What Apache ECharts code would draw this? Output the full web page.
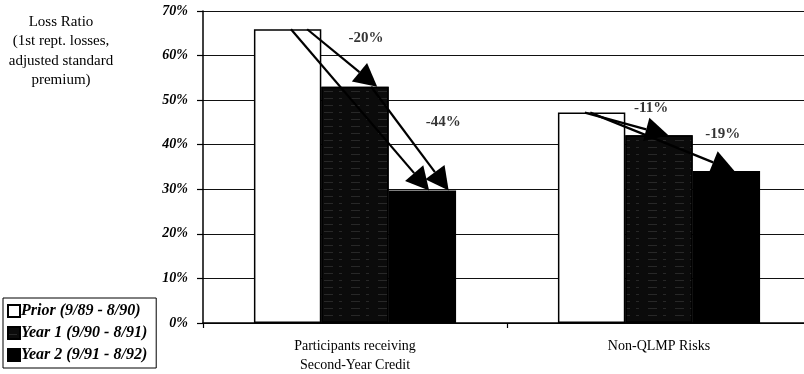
<!DOCTYPE html>
<html>
<head>
<meta charset="utf-8">
<script src="https://cdn.jsdelivr.net/npm/echarts@6/dist/echarts.min.js"></script>
<style>
  html, body { margin: 0; padding: 0; background: #fff; }
  #chart { width: 804px; height: 374px; }
</style>
</head>
<body>
<div id="chart"></div>
<script>
// Loss ratio by program period
const categories = ['Participants receiving\nSecond-Year Credit', 'Non-QLMP Risks'];
const seriesNames = ['Prior (9/89 - 8/90)', 'Year 1 (9/90 - 8/91)', 'Year 2 (9/91 - 8/92)'];
const prior = [65.9, 47.2];
const year1 = [53.0, 42.1];
const year2 = [29.7, 34.1];
const yTicks = { min: 0, max: 70, step: 10 };

const values = [prior, year1, year2];
const SERIF = '"Liberation Serif", "Times New Roman", serif';

// bar layout within a category
const catGap = 0.335;
const barUnit = (1 - catGap) / 3;

// change arrows: from one period's bar top to another's (offsets in bar widths)
const arrowSpec = [
  { cat: 0, from: 0, fromOff: 0.29, to: 1, toOff: 0.33 },
  { cat: 0, from: 1, fromOff: 0.24, to: 2, toOff: 0.39 },
  { cat: 0, from: 0, fromOff: 0.05, to: 2, toOff: 0.10 },
  { cat: 1, from: 0, fromOff: -0.10, to: 1, toOff: 0.14 },
  { cat: 1, from: 0, fromOff: -0.02, to: 2, toOff: 0.12 }
];
// percent-change captions (anchor in category units / axis value)
const changeSpec = [
  { cat: 0, from: 0, to: 1, x: 0.036, y: 63.9 },
  { cat: 0, from: 1, to: 2, x: 0.29, y: 45.1 },
  { cat: 1, from: 0, to: 1, x: -0.026, y: 48.2 },
  { cat: 1, from: 1, to: 2, x: 0.21, y: 42.4 }
];

function barX(cat, s, off) {
  return cat + (s - 1) * barUnit + off * barUnit;
}

const arrowData = arrowSpec.map(a => [
  barX(a.cat, a.from, a.fromOff), values[a.from][a.cat],
  barX(a.cat, a.to, a.toOff), values[a.to][a.cat]
]);

const changeData = changeSpec.map(c => {
  const pct = Math.round((values[c.to][c.cat] / values[c.from][c.cat] - 1) * 100);
  return { name: pct + '%', value: [c.cat + c.x, c.y] };
});

const colors = ['#ffffff', '#0b0b0b', '#000000'];
// faint streak texture for the Year 1 fill
const decals = [null, {
  symbol: 'rect',
  symbolSize: 1,
  color: 'rgba(255,255,255,0.12)',
  dashArrayX: [[9, 6, 3, 9]],
  dashArrayY: [1, 6]
}, null];

// straight shaft with a solid triangular head whose tip sits on the target point
function renderArrow(params, api) {
  const p1 = api.coord([api.value(0), api.value(1)]);
  const p2 = api.coord([api.value(2), api.value(3)]);
  const dx = p2[0] - p1[0], dy = p2[1] - p1[1];
  const len = Math.sqrt(dx * dx + dy * dy) || 1;
  const ux = dx / len, uy = dy / len;
  const headLen = 23, headHalf = 12;
  const bx = p2[0] - ux * headLen, by = p2[1] - uy * headLen;
  const nx = -uy, ny = ux;
  return {
    type: 'group',
    children: [{
      type: 'line',
      shape: { x1: p1[0], y1: p1[1], x2: bx, y2: by },
      style: { stroke: '#000', lineWidth: 2.2 }
    }, {
      type: 'polygon',
      shape: { points: [[p2[0], p2[1]], [bx + nx * headHalf, by + ny * headHalf], [bx - nx * headHalf, by - ny * headHalf]] },
      style: { fill: '#000' }
    }]
  };
}

const chart = echarts.init(document.getElementById('chart'), null, { renderer: 'canvas' });

const barSeries = seriesNames.map((name, i) => {
  const itemStyle = { color: colors[i], borderColor: '#000', borderWidth: 1.5 };
  if (decals[i]) itemStyle.decal = decals[i];
  return {
    name,
    type: 'bar',
    data: values[i],
    barGap: '0%',
    barCategoryGap: (catGap * 100) + '%',
    itemStyle,
    z: 2
  };
});

chart.setOption({
  animation: false,
  backgroundColor: '#fff',
  graphic: [{
    type: 'text',
    x: 61,
    y: 12,
    style: {
      text: 'Loss Ratio\n(1st rept. losses,\nadjusted standard\npremium)',
      textAlign: 'center',
      textVerticalAlign: 'top',
      font: '15px ' + SERIF,
      lineHeight: 19.5,
      fill: '#000'
    }
  }],
  legend: {
    data: seriesNames,
    orient: 'vertical',
    left: 3,
    top: 298,
    icon: 'rect',
    itemWidth: 12,
    itemHeight: 12,
    itemGap: 6,
    padding: [5, 9, 5, 4],
    borderColor: '#000',
    borderWidth: 1,
    textStyle: { fontFamily: SERIF, fontSize: 16, fontWeight: 'bold', fontStyle: 'italic', color: '#000', padding: [0, 0, 0, -4] }
  },
  grid: { left: 203, width: 608, top: 11, bottom: 51, containLabel: false, outerBoundsMode: 'none' },
  xAxis: [{
    type: 'category',
    data: categories,
    axisLine: { lineStyle: { color: '#000', width: 1.5 } },
    axisTick: { show: true, length: 5, lineStyle: { color: '#000', width: 1.2 } },
    axisLabel: { margin: 14, fontFamily: SERIF, fontSize: 14, lineHeight: 19, color: '#000' },
    splitLine: { show: false }
  }, {
    type: 'value',
    min: -0.5,
    max: 1.5,
    show: false
  }],
  yAxis: {
    type: 'value',
    min: yTicks.min,
    max: yTicks.max,
    interval: yTicks.step,
    axisLine: { show: true, onZero: false, lineStyle: { color: '#000', width: 1.5 } },
    axisTick: { show: true, length: 6, lineStyle: { color: '#000', width: 1.2 } },
    splitLine: { show: true, lineStyle: { color: '#111', width: 1.2 } },
    axisLabel: {
      formatter: '{value}%',
      margin: 15,
      fontFamily: SERIF,
      fontSize: 14,
      fontWeight: 'bold',
      fontStyle: 'italic',
      color: '#000'
    }
  },
  series: barSeries.concat([{
    type: 'custom',
    coordinateSystem: 'cartesian2d',
    xAxisIndex: 1,
    yAxisIndex: 0,
    renderItem: renderArrow,
    encode: { x: [0, 2], y: [1, 3] },
    data: arrowData,
    silent: true,
    z: 5
  }, {
    type: 'scatter',
    xAxisIndex: 1,
    yAxisIndex: 0,
    symbolSize: 0,
    data: changeData,
    label: {
      show: true,
      position: 'inside',
      formatter: '{b}',
      fontFamily: SERIF,
      fontSize: 15,
      fontWeight: 'bold',
      color: '#000'
    },
    silent: true,
    z: 6
  }])
});
</script>
</body>
</html>
